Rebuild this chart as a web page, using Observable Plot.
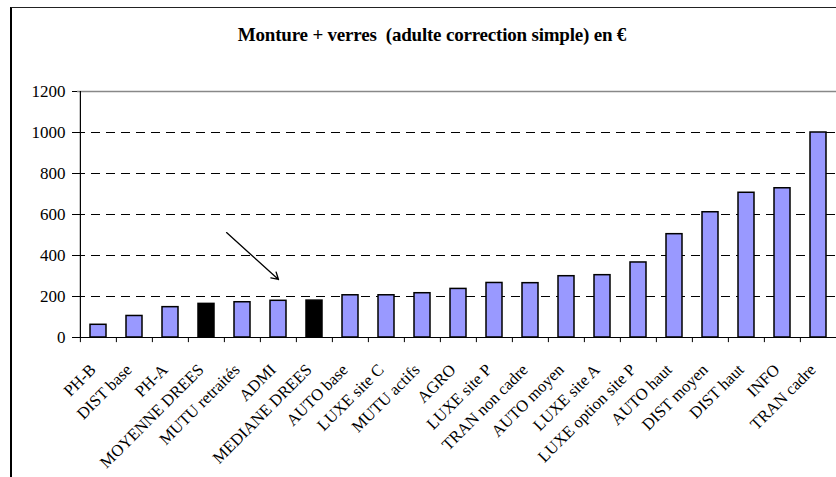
<!DOCTYPE html>
<html>
<head>
<meta charset="utf-8">
<script src="https://cdn.jsdelivr.net/npm/d3@7"></script>
<script src="https://cdn.jsdelivr.net/npm/@observablehq/plot@0.6"></script>
<style>
  html, body { margin: 0; padding: 0; background: #fff; overflow: hidden; }
  #wrap { position: relative; width: 836px; height: 477px; overflow: hidden; }
  #frame { position: absolute; left: 10px; top: 7px; width: 900px; height: 500px;
           border-left: 2px solid #000; border-top: 1.5px solid #222; }
  #title { position: absolute; left: 0; top: 25px; width: 864px; text-align: center;
           font-family: "Liberation Serif", "Times New Roman", serif; font-weight: bold;
           font-size: 19px; line-height: 19px; color: #000; letter-spacing: -0.2px; }
  #chart { position: absolute; left: 0; top: 0; }
  #chart svg { overflow: visible; }
</style>
</head>
<body>
<div id="wrap">
  <div id="frame"></div>
  <div id="chart"></div>
  <div id="title">Monture + verres&nbsp; (adulte correction simple) en €</div>
</div>
<script>
const categories = ["PH-B", "DIST base", "PH-A", "MOYENNE DREES", "MUTU retraités", "ADMI",
  "MEDIANE DREES", "AUTO base", "LUXE site C", "MUTU actifs", "AGRO", "LUXE site P",
  "TRAN non cadre", "AUTO moyen", "LUXE site A", "LUXE option site P", "AUTO haut",
  "DIST moyen", "DIST haut", "INFO", "TRAN cadre"];
const values = [62, 105, 148, 164, 172, 179, 180, 206, 206, 216, 237, 266, 265, 299, 304,
  366, 504, 611, 706, 728, 1000];
const highlighted = ["MOYENNE DREES", "MEDIANE DREES"];
const yTicks = [0, 200, 400, 600, 800, 1000, 1200];
const gridValues = [200, 400, 600, 800, 1000];
// arrow annotation (data space): from near MOYENNE DREES / 600 down to ADMI bar
const arrowFrom = {cat: "MOYENNE DREES", value: 600};
const arrowTo = {cat: "ADMI", value: 283};

const data = categories.map((c, i) => ({cat: c, value: values[i], black: highlighted.includes(c)}));

const W = 836, H = 477;
const xRange = [77, 838];
const step = (xRange[1] - xRange[0]) / categories.length;
const serif = '"Liberation Serif", "Times New Roman", serif';

const chart = Plot.plot({
  width: W,
  height: H,
  marginLeft: 77,
  marginRight: 0,
  marginTop: 91,
  marginBottom: 140,
  style: {fontFamily: serif, fontSize: "17px", color: "#000", background: "transparent"},
  x: {domain: categories, range: xRange, paddingInner: 0.56, paddingOuter: 0.28, axis: null},
  y: {domain: [0, 1200], range: [337, 91], axis: null},
  marks: [
    Plot.ruleY(gridValues, {stroke: "#000", strokeWidth: 1, strokeDasharray: "9,6", strokeDashoffset: 1}),
    Plot.ruleY([1200], {stroke: "#888", strokeWidth: 1.5}),
    Plot.barY(data, {x: "cat", y: "value", fill: d => d.black ? "#000" : "#9999FF",
      stroke: "#000", strokeWidth: 1.5}),
    Plot.ruleY([0], {stroke: "#000", strokeWidth: 1.2}),
    Plot.ruleX([categories[0]], {x: d => d, dx: -step / 2, y1: 0, y2: 1200, stroke: "#000", strokeWidth: 1.2}),
    Plot.ruleX(categories, {x: d => d, dx: -step / 2, y1: 0, y2: -25, stroke: "#000", strokeWidth: 1}),
    Plot.axisY({ticks: yTicks, tickSize: 5, tickPadding: 7, fontSize: 17, label: null, tickFormat: d => String(d)}),
    Plot.text(categories, {x: d => d, y: 0, text: d => d, rotate: -45, textAnchor: "end",
      lineAnchor: "top", dx: -10, dy: 25, fontSize: 16.5, fill: "#000"}),
    Plot.arrow([{}], {x1: () => arrowFrom.cat, y1: () => arrowFrom.value,
      x2: () => arrowTo.cat, y2: () => arrowTo.value, insetStart: 27, headLength: 9,
      stroke: "#000", strokeWidth: 1.3})
  ]
});
document.getElementById("chart").appendChild(chart);
</script>
</body>
</html>
